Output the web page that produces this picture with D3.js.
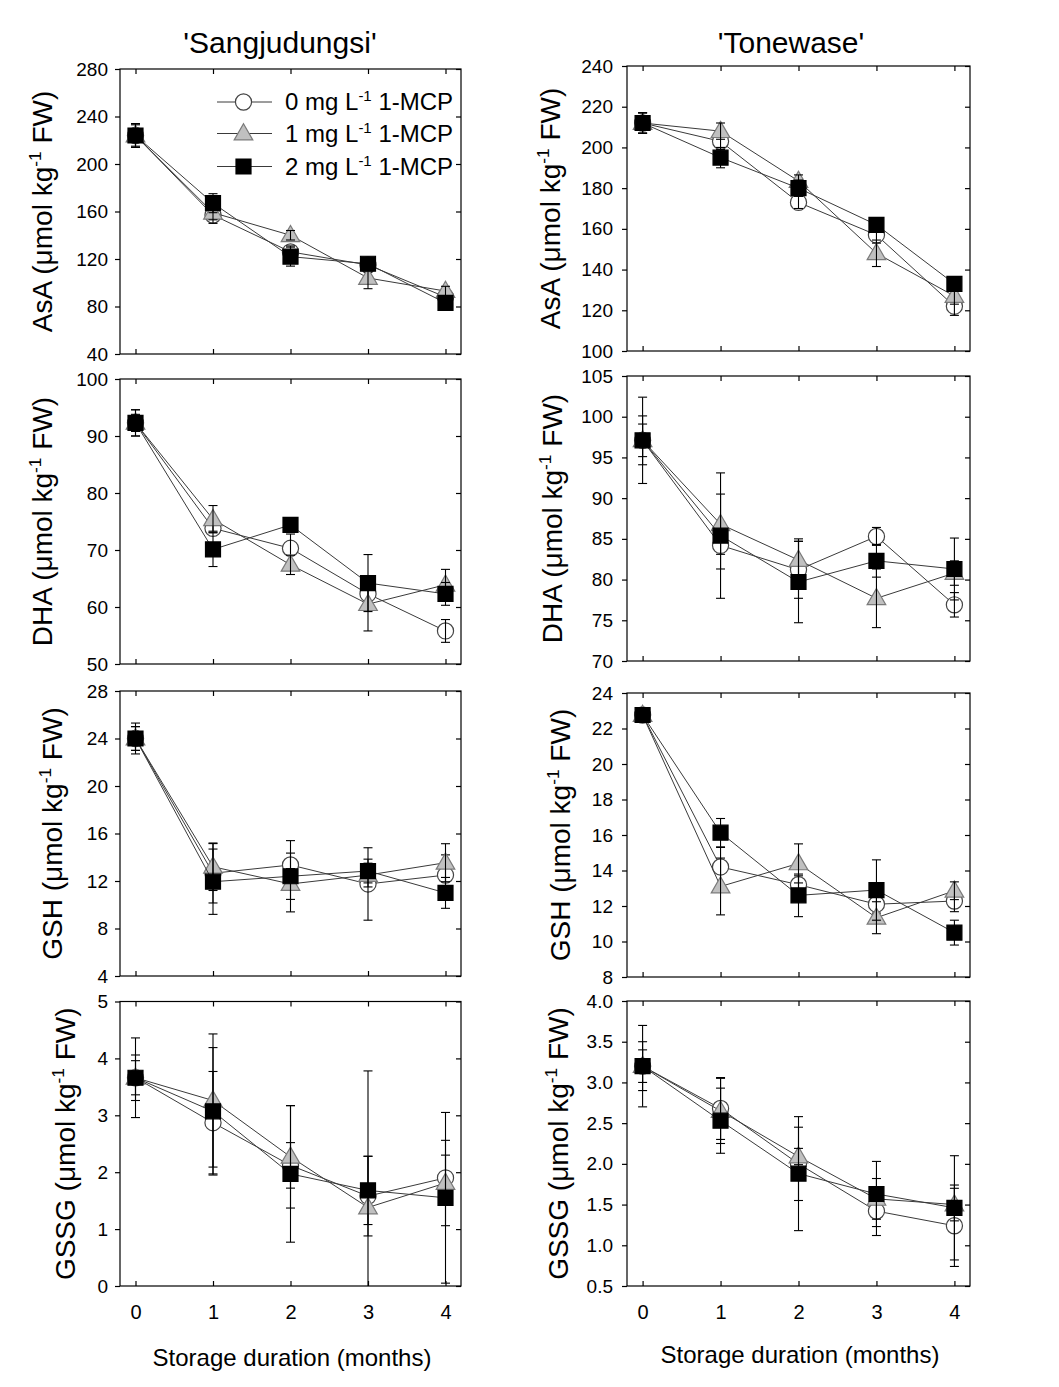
<!DOCTYPE html>
<html><head><meta charset="utf-8">
<script src="https://cdn.jsdelivr.net/npm/d3@7"></script>
<style>
body{margin:0;background:#fff}
text{font-family:"Liberation Sans",Arial,sans-serif;fill:#000}
</style>
</head><body>
<svg id="c" width="1059" height="1387"></svg>
<script>
// ---------------- DATA ----------------
const months = [0, 1, 2, 3, 4];
const xTickLabels = ["0", "1", "2", "3", "4"];
const cultivars = ["'Sangjudungsi'", "'Tonewase'"];
const treatments = ["0", "1", "2"];
const variables = ["AsA", "DHA", "GSH", "GSSG"];
const xTitle = "Storage duration (months)";

// AsA – Sangjudungsi
const asaS0 = [224, 157, 126, 115, 88],   asaS0e = [10, 7, 5, 6, 5];
const asaS1 = [224, 159, 140, 104, 93],   asaS1e = [9, 6, 4, 9, 4];
const asaS2 = [224, 167, 122, 116, 83],   asaS2e = [10, 8, 8, 5, 4];
// AsA – Tonewase
const asaT0 = [212, 203, 173, 157, 122],  asaT0e = [5, 4, 3, 4, 4.5];
const asaT1 = [212, 208, 183.5, 148, 127],asaT1e = [5, 4, 3, 6.5, 4];
const asaT2 = [212, 195, 180, 162, 133],  asaT2e = [5, 5, 4, 3, 3];
// DHA – Sangjudungsi
const dhaS0 = [92.3, 73.8, 70.3, 62.3, 55.8], dhaS0e = [2.3, 0.5, 2.5, 1.5, 2];
const dhaS1 = [92.3, 75.4, 67.4, 60.5, 63.9], dhaS1e = [2.3, 2.4, 1.7, 4.7, 2.7];
const dhaS2 = [92.3, 70.1, 74.4, 64.2, 62.3], dhaS2e = [1.5, 3, 1.2, 5, 2];
// DHA – Tonewase
const dhaT0 = [97.1, 84.2, 81.2, 85.3, 76.9], dhaT0e = [5.3, 2.9, 3.5, 1.1, 1.5];
const dhaT1 = [97.1, 86.8, 82.4, 77.7, 80.8], dhaT1e = [3, 3.7, 2.6, 3.6, 1.5];
const dhaT2 = [97.1, 85.4, 79.7, 82.3, 81.3], dhaT2e = [2, 7.7, 5, 2, 3.8];
// GSH – Sangjudungsi
const gshS0 = [24.0, 12.65, 13.35, 11.75, 12.5], gshS0e = [1.3, 2.5, 1, 3.05, 1.7];
const gshS1 = [24.0, 13.2, 11.75, 12.5, 13.54],  gshS1e = [1, 2, 1.3, 1, 1.6];
const gshS2 = [24.0, 11.94, 12.4, 12.84, 11.0],  gshS2e = [1, 2.75, 3, 1, 1.3];
// GSH – Tonewase
const gshT0 = [22.76, 14.2, 13.2, 12.1, 12.28],  gshT0e = [0.3, 1.1, 0.5, 0.5, 0.6];
const gshT1 = [22.76, 13.1, 14.4, 11.34, 12.86], gshT1e = [0.3, 1.6, 1.1, 0.9, 0.5];
const gshT2 = [22.76, 16.13, 12.6, 12.9, 10.5],  gshT2e = [0.3, 0.8, 1.2, 1.7, 0.7];
// GSSG – Sangjudungsi
const gssgS0 = [3.66, 2.87, 2.12, 1.58, 1.9],  gssgS0e = [0.4, 0.9, 0.4, 0.7, 0.4];
const gssgS1 = [3.66, 3.26, 2.27, 1.38, 1.81], gssgS1e = [0.3, 1.17, 0.9, 2.4, 0.75];
const gssgS2 = [3.66, 3.07, 1.97, 1.68, 1.55], gssgS2e = [0.7, 1.12, 1.2, 0.6, 1.5];
// GSSG – Tonewase
const gssgT0 = [3.2, 2.68, 2.0, 1.42, 1.24],  gssgT0e = [0.3, 0.38, 0.45, 0.3, 0.5];
const gssgT1 = [3.2, 2.65, 2.09, 1.57, 1.5],  gssgT1e = [0.2, 0.4, 0.1, 0.25, 0.2];
const gssgT2 = [3.2, 2.53, 1.88, 1.63, 1.46], gssgT2e = [0.5, 0.4, 0.7, 0.4, 0.64];

// y axis tick values per panel
const ticksAsaS = [40, 80, 120, 160, 200, 240, 280];
const ticksAsaT = [100, 120, 140, 160, 180, 200, 220, 240];
const ticksDhaS = [50, 60, 70, 80, 90, 100];
const ticksDhaT = [70, 75, 80, 85, 90, 95, 100, 105];
const ticksGshS = [4, 8, 12, 16, 20, 24, 28];
const ticksGshT = [8, 10, 12, 14, 16, 18, 20, 22, 24];
const ticksGssgS = [0, 1, 2, 3, 4, 5];
const ticksGssgT = [0.5, 1.0, 1.5, 2.0, 2.5, 3.0, 3.5, 4.0];

// ---------------- PANEL TABLE ----------------
const panelData = [
  {v:0,c:0,ticks:ticksAsaS,fmt:"d",series:[[asaS0,asaS0e],[asaS1,asaS1e],[asaS2,asaS2e]]},
  {v:0,c:1,ticks:ticksAsaT,fmt:"d",series:[[asaT0,asaT0e],[asaT1,asaT1e],[asaT2,asaT2e]]},
  {v:1,c:0,ticks:ticksDhaS,fmt:"d",series:[[dhaS0,dhaS0e],[dhaS1,dhaS1e],[dhaS2,dhaS2e]]},
  {v:1,c:1,ticks:ticksDhaT,fmt:"d",series:[[dhaT0,dhaT0e],[dhaT1,dhaT1e],[dhaT2,dhaT2e]]},
  {v:2,c:0,ticks:ticksGshS,fmt:"d",series:[[gshS0,gshS0e],[gshS1,gshS1e],[gshS2,gshS2e]]},
  {v:2,c:1,ticks:ticksGshT,fmt:"d",series:[[gshT0,gshT0e],[gshT1,gshT1e],[gshT2,gshT2e]]},
  {v:3,c:0,ticks:ticksGssgS,fmt:"d",series:[[gssgS0,gssgS0e],[gssgS1,gssgS1e],[gssgS2,gssgS2e]]},
  {v:3,c:1,ticks:ticksGssgT,fmt:".1f",series:[[gssgT0,gssgT0e],[gssgT1,gssgT1e],[gssgT2,gssgT2e]]}
];

// ---------------- LAYOUT ----------------
const colX = [[120, 461], [627, 970]];
const rowY = [
  [[69, 354], [379, 664], [691, 976], [1001.5, 1286]],
  [[66, 351], [376, 661], [693, 977], [1001, 1286]]
];
const labelX = [[52, 52, 62, 75], [560, 562, 570, 568]];
const tickPad = [7, 9];
const titleX = [280, 791];
const xTitleX = [292, 800], xTitleY = [1366, 1363];

const styles = [
  {sym: d3.symbolCircle, size: 205, fill: "#fff", stroke: "#444"},
  {sym: d3.symbolTriangle, size: 150, fill: "#c0c0c0", stroke: "#7a7a7a"},
  {sym: d3.symbolSquare, size: 225, fill: "#000", stroke: "#000"}
];

const svg = d3.select("#c");

function muLabel(sel, name, fs) {
  sel.append("tspan").text(name + " (\u03bcmol kg");
  sel.append("tspan").attr("font-size", fs * 0.62).attr("dy", -fs * 0.4).text("-1");
  sel.append("tspan").attr("dy", fs * 0.4).text(" FW)");
}

panelData.forEach((p, i) => {
  const [x0, x1] = colX[p.c];
  const [y0, y1] = rowY[p.c][p.v];
  const x = d3.scaleLinear().domain([-0.2, 4.2]).range([x0, x1]);
  const y = d3.scaleLinear().domain([p.ticks[0], p.ticks[p.ticks.length - 1]]).range([y1, y0]);
  const g = svg.append("g");

  g.append("clipPath").attr("id", "clip" + i).append("rect")
    .attr("x", x0).attr("y", y0).attr("width", x1 - x0).attr("height", y1 - y0);

  // frame
  g.append("rect").attr("x", x0).attr("y", y0).attr("width", x1 - x0).attr("height", y1 - y0)
    .attr("fill", "none").attr("stroke", "#000").attr("stroke-width", 1.2);

  // axes
  const left = g.append("g").attr("transform", `translate(${x0},0)`)
    .call(d3.axisLeft(y).tickValues(p.ticks).tickSize(5).tickPadding(tickPad[p.c]).tickFormat(d3.format(p.fmt)));
  left.select(".domain").remove();
  left.selectAll("text").attr("font-size", 19).attr("font-family", "Liberation Sans, Arial, sans-serif");
  const right = g.append("g").attr("transform", `translate(${x1},0)`)
    .call(d3.axisRight(y).tickValues(p.ticks).tickSize(-5).tickFormat(""));
  right.select(".domain").remove();
  const top = g.append("g").attr("transform", `translate(0,${y0})`)
    .call(d3.axisTop(x).tickValues(months).tickSize(-5).tickFormat(""));
  top.select(".domain").remove();
  const bottom = g.append("g").attr("transform", `translate(0,${y1})`)
    .call(d3.axisBottom(x).tickValues(months).tickSize(-5).tickPadding(19)
      .tickFormat(p.v === 3 ? (d, j) => xTickLabels[j] : ""));
  bottom.select(".domain").remove();
  bottom.selectAll("text").attr("font-size", 20).attr("font-family", "Liberation Sans, Arial, sans-serif");
  g.selectAll(".tick line").attr("stroke-width", 1.2);

  // y label
  const lab = g.append("text")
    .attr("transform", `translate(${labelX[p.c][p.v]},${(y0 + y1) / 2}) rotate(-90)`)
    .attr("text-anchor", "middle").attr("font-size", 28);
  muLabel(lab, variables[p.v], 28);

  // series
  const plot = g.append("g").attr("clip-path", `url(#clip${i})`);
  p.series.forEach(([vals, errs], s) => {
    const st = styles[s];
    const pts = months.map((m, k) => ({m, v: vals[k], e: errs[k]}));
    plot.append("path").datum(pts)
      .attr("d", d3.line().x(d => x(d.m)).y(d => y(d.v)))
      .attr("fill", "none").attr("stroke", "#3a3a3a").attr("stroke-width", 1);
    plot.selectAll(null).data(pts).enter().append("path")
      .attr("d", d3.symbol().type(st.sym).size(st.size))
      .attr("transform", d => `translate(${x(d.m)},${y(d.v) + (s === 1 ? 1 : 0)})`)
      .attr("fill", st.fill).attr("stroke", st.stroke).attr("stroke-width", 1.2);
    const eb = plot.selectAll(null).data(pts).enter().append("g").attr("stroke", "#000").attr("stroke-width", 1.1);
    eb.append("line").attr("x1", d => x(d.m)).attr("x2", d => x(d.m))
      .attr("y1", d => y(d.v - d.e)).attr("y2", d => y(d.v + d.e));
    eb.append("line").attr("x1", d => x(d.m) - 4.5).attr("x2", d => x(d.m) + 4.5)
      .attr("y1", d => y(d.v + d.e)).attr("y2", d => y(d.v + d.e));
    eb.append("line").attr("x1", d => x(d.m) - 4.5).attr("x2", d => x(d.m) + 4.5)
      .attr("y1", d => y(d.v - d.e)).attr("y2", d => y(d.v - d.e));
  });

  // legend in first panel
  if (i === 0) {
    const lg = g.append("g");
    const rows = [102, 133.5, 166.5];
    treatments.forEach((t, s) => {
      const st = styles[s];
      lg.append("line").attr("x1", 217).attr("x2", 272).attr("y1", rows[s]).attr("y2", rows[s])
        .attr("stroke", "#3a3a3a").attr("stroke-width", 1);
      lg.append("path").attr("d", d3.symbol().type(st.sym).size(st.size))
        .attr("transform", `translate(243.5,${rows[s] + (s === 1 ? 1 : 0)})`)
        .attr("fill", st.fill).attr("stroke", st.stroke).attr("stroke-width", 1.2);
      const tx = lg.append("text").attr("x", 285).attr("y", rows[s] + 8).attr("font-size", 24);
      tx.append("tspan").text(t + " mg L");
      tx.append("tspan").attr("font-size", 15).attr("dy", -9).text("-1");
      tx.append("tspan").attr("dy", 9).text(" 1-MCP");
    });
  }
});

// column titles
cultivars.forEach((c, k) => {
  svg.append("text").attr("x", titleX[k]).attr("y", 53).attr("text-anchor", "middle")
    .attr("font-size", 30).text(c);
  svg.append("text").attr("x", xTitleX[k]).attr("y", xTitleY[k]).attr("text-anchor", "middle")
    .attr("font-size", 24).text(xTitle);
});
</script>
</body></html>
